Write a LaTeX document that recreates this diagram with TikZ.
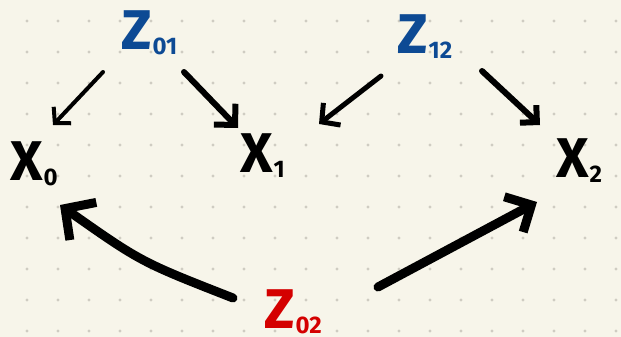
\documentclass[tikz,border=0pt]{standalone}
\usepackage{fontspec}
\setmainfont{Fira Sans}
\usepackage{tikz}
\usetikzlibrary{arrows.meta}
\definecolor{paper}{HTML}{F7F5EA}
\definecolor{griddot}{HTML}{CFCCC2}
\definecolor{zblue}{HTML}{0D4A94}
\definecolor{zred}{HTML}{D40000}
\newcommand{\sublbl}[2]{#1\kern1pt\raisebox{-5pt}{\fontsize{24}{24}\selectfont #2}}

\begin{document}
\begin{tikzpicture}[
x=1pt, y=-1pt,
var/.style={inner sep=0pt, anchor=base west, font=\fontsize{56}{56}\selectfont\bfseries},
arr/.style 2 args={-{Straight Barb[length=#1, width=#2]}, line cap=round, line join=round}
]
\fill[paper] (0,0) rectangle (621,337);
\useasboundingbox (0,0) rectangle (621,337);
\foreach \i in {0,...,19}
  \foreach \j in {0,...,10}
    \fill[griddot] (27+31*\i, 21+31*\j) circle (1.6);

\node[var, zblue] (z01) at (121,50) {\sublbl{Z}{01}};
\node[var, zblue] (z12) at (397,54) {\sublbl{Z}{12}};
\node[var, zred] (z02) at (264,328) {\sublbl{Z}{02}};
\node[var] (x0) at (10,180) {\sublbl{X}{0}};
\node[var] (x1) at (240,172) {\sublbl{X}{1}};
\node[var] (x2) at (556,177) {\sublbl{X}{2}};

\draw[arr={11pt}{24pt}, line width=4pt] ([shift={(-18,22)}]z01.base west) -- ([shift={(43,-55)}]x0.base west);
\draw[arr={15pt}{30pt}, line width=6pt] ([shift={(63,22)}]z01.base west) -- ([shift={(-2,-44)}]x1.base west);
\draw[arr={13pt}{28pt}, line width=5pt] ([shift={(-16,22)}]z12.base west) -- ([shift={(79,-48)}]x1.base west);
\draw[arr={12pt}{24pt}, line width=6pt] ([shift={(85,17)}]z12.base west) -- ([shift={(-16,-52)}]x2.base west);
\draw[arr={22pt}{46pt}, line width=9pt] ([shift={(-31,-30)}]z02.base west) .. controls (141,262) .. ([shift={(50,25)}]x0.base west);
\draw[arr={20pt}{40pt}, line width=9pt] ([shift={(114,-41)}]z02.base west) -- ([shift={(-19,25)}]x2.base west);
\end{tikzpicture}
\end{document}
